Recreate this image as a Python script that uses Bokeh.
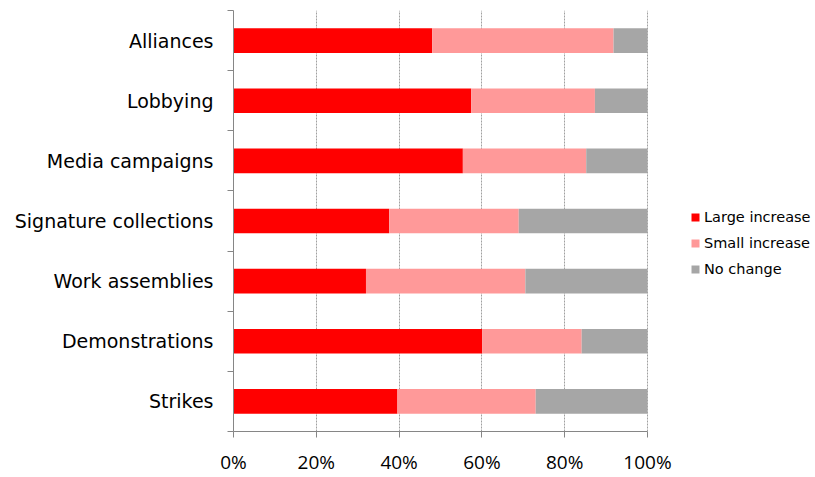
from bokeh.plotting import figure
from bokeh.models import ColumnDataSource, FixedTicker, Legend, LegendItem
from bokeh.embed import file_html
from bokeh.resources import INLINE

categories = ["Strikes", "Demonstrations", "Work assemblies", "Signature collections",
              "Media campaigns", "Lobbying", "Alliances"]
large_increase = [39.6, 60.1, 32.0, 37.6, 55.4, 57.4, 48.0]
small_increase = [33.4, 24.0, 38.5, 31.3, 29.8, 29.9, 43.8]
no_change = [27.0, 15.9, 29.5, 31.1, 14.8, 12.7, 8.2]
series_names = ["Large increase", "Small increase", "No change"]
colors = ["#FF0000", "#FF9999", "#A6A6A6"]
x_ticks = [0, 20, 40, 60, 80, 100]

n = len(categories)
ypos = [i + 0.5 for i in range(n)]
s1 = [a for a in large_increase]
s2 = [a + b for a, b in zip(large_increase, small_increase)]
s3 = [a + b + c for a, b, c in zip(large_increase, small_increase, no_change)]

src = ColumnDataSource(dict(y=ypos, l0=[0] * n, l1=s1, l2=s2, l3=s3))

left_px, right_px = 233, 812
x_end = 100 * (right_px - left_px) / 414.0

p = figure(width=815, height=477, output_backend="svg", toolbar_location=None,
           x_range=(0, x_end), y_range=(0, n),
           min_border_left=left_px, min_border_right=815 - right_px,
           min_border_top=10, min_border_bottom=40)
p.outline_line_color = None
p.background_fill_color = "white"

h = 0.41
r1 = p.hbar(y="y", left="l0", right="l1", height=h, color=colors[0], source=src, line_color=None)
r2 = p.hbar(y="y", left="l1", right="l2", height=h, color=colors[1], source=src, line_color=None)
r3 = p.hbar(y="y", left="l2", right="l3", height=h, color=colors[2], source=src, line_color=None)

# x axis
p.xaxis.ticker = FixedTicker(ticks=x_ticks)
p.xaxis.bounds = (0, 100)
p.xaxis.major_label_overrides = {t: f"{t}%" for t in x_ticks}
p.xaxis.axis_line_color = "#868686"
p.xaxis.major_tick_line_color = "#868686"
p.xaxis.major_tick_out = 6
p.xaxis.major_tick_in = 0
p.xaxis.minor_tick_line_color = None
p.xaxis.major_label_text_font = "Open Sans"
p.xaxis.major_label_text_font_size = "19px"
p.xaxis.major_label_text_color = "black"
p.xaxis.major_label_standoff = 11

# y axis
p.yaxis.ticker = FixedTicker(ticks=ypos, minor_ticks=list(range(n + 1)))
p.yaxis.major_label_overrides = {y: c for y, c in zip(ypos, categories)}
p.yaxis.axis_line_color = "#868686"
p.yaxis.major_tick_line_color = None
p.yaxis.minor_tick_line_color = "#868686"
p.yaxis.minor_tick_out = 6
p.yaxis.minor_tick_in = 0
p.yaxis.major_label_text_font = "DejaVu Sans"
p.yaxis.major_label_text_font_size = "19px"
p.yaxis.major_label_text_color = "black"
p.yaxis.major_label_standoff = 14

# grid
p.xgrid.ticker = FixedTicker(ticks=x_ticks)
p.xgrid.bounds = (0, 100)
p.xgrid.grid_line_color = "#A0A0A0"
p.xgrid.grid_line_dash = "2 1"
p.ygrid.grid_line_color = None

legend = Legend(items=[LegendItem(label=series_names[0], renderers=[r1]),
                       LegendItem(label=series_names[1], renderers=[r2]),
                       LegendItem(label=series_names[2], renderers=[r3])],
                location=(457, 153))
legend.border_line_color = None
legend.background_fill_alpha = 0
legend.label_text_font = "DejaVu Sans"
legend.label_text_font_size = "14.5px"
legend.label_text_color = "black"
legend.glyph_width = 10
legend.glyph_height = 10
legend.label_standoff = 4
legend.spacing = 8
legend.padding = 0
legend.margin = 0
legend.label_height = 18
p.add_layout(legend, "center")

open("out.html", "w").write(file_html(p, INLINE))
